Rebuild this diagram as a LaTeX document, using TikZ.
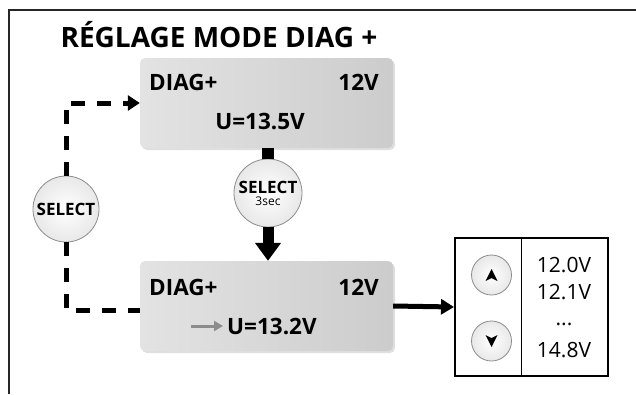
\documentclass[tikz,border=0pt]{standalone}
\usepackage{fontspec}
\setmainfont{Open Sans}
\usetikzlibrary{arrows.meta, positioning, calc, shadows}

\begin{document}
\begin{tikzpicture}[
	x=1pt, y=-1pt,
	every node/.style={font=\fontsize{21}{23}\selectfont, inner sep=0pt},
	lcd/.style={font=\fontsize{22.5}{24}\selectfont\bfseries},
	screen/.style={rectangle, rounded corners=5pt, left color=black!11, right color=black!20, minimum width=253pt, minimum height=90pt, drop shadow={opacity=0.25, shadow xshift=2pt, shadow yshift=-2pt}},
	bigbtn/.style={circle, draw=black!45, line width=0.8pt, inner color=white, outer color=black!9, minimum size=68pt, align=center, font=\fontsize{17}{15}\selectfont\bfseries},
	smallbtn/.style={circle, draw=black!45, line width=0.8pt, inner color=white, outer color=black!9, minimum size=40pt},
	dashpath/.style={line width=5pt, dash pattern=on 14pt off 12pt},
	arrow/.style={line width=5pt, -{Triangle[width=15pt, length=13pt]}}
]
\useasboundingbox (0,0) rectangle (636,394);

% Frame
\draw[line width=2pt, black!85] (8,10) -- (636,10);
\draw[line width=2pt, black!85] (9,10) -- (9,394);

% Title
\node[font=\fontsize{28}{30}\selectfont\bfseries] (title) at (219,35) {RÉGLAGE MODE DIAG +};

% Screens
\node[screen] (scr1) at (266.5,103) {};
\node[lcd, anchor=west] (mode1) at (149,82) {DIAG+};
\node[lcd, anchor=east] (bat1) at (379,82) {12V};
\node[lcd] (volt1) at (260,121) {U=13.5V};

\node[screen] (scr2) at (266.5,306) {};
\node[lcd, anchor=west] (mode2) at (149,287) {DIAG+};
\node[lcd, anchor=east] (bat2) at (379,287) {12V};
\node[lcd, anchor=west] (volt2) at (227,326) {U=13.2V};
\coordinate[left=36pt of volt2.west] (ptr);
\draw[line width=3pt, black!45, -{Triangle[width=10pt, length=9pt]}] (ptr) -- ($(volt2.west)+(-4,0)$);

% Buttons
\node[bigbtn] (sel3) at (268,193) {SELECT\\[-3pt]{\fontsize{12}{12}\mdseries 3sec}};
\node[bigbtn, minimum size=66pt] (sel) at (66,209) {SELECT};

% Connectors
\draw[line width=12pt] (scr1.south -| sel3) -- (sel3.north);
\draw[line width=11pt, -{Triangle[width=25pt, length=18pt]}] (sel3.south) -- (scr2.north -| sel3);
\draw[dashpath, -{Triangle[width=15pt, length=12pt]}] (sel.north) |- (scr1.west);
\draw[dashpath] (sel.south) |- ($(scr2.west)+(0,4)$);

% Value list
\node[draw, line width=2pt, minimum width=153pt, minimum height=138pt] (list) at (531.5,307) {};
\draw[line width=1pt] (521.5,238) -- (521.5,376);
\draw[arrow] (scr2.east) -- (list.west);

\node[smallbtn] (up) at (491.5,275) {};
\node[smallbtn] (down) at (491.5,341) {};
\fill ($(up)+(0,-6)$) -- ($(up)+(6,6)$) -- ($(up)+(0,3)$) -- ($(up)+(-6,6)$) -- cycle;
\fill ($(down)+(0,6)$) -- ($(down)+(6,-6)$) -- ($(down)+(0,-3)$) -- ($(down)+(-6,-6)$) -- cycle;

\node (v1) at (564,265) {12.0V};
\node (v2) at (564,292) {12.1V};
\node (v3) at (564,324) {...};
\node (v4) at (564,350) {14.8V};

\end{tikzpicture}
\end{document}
